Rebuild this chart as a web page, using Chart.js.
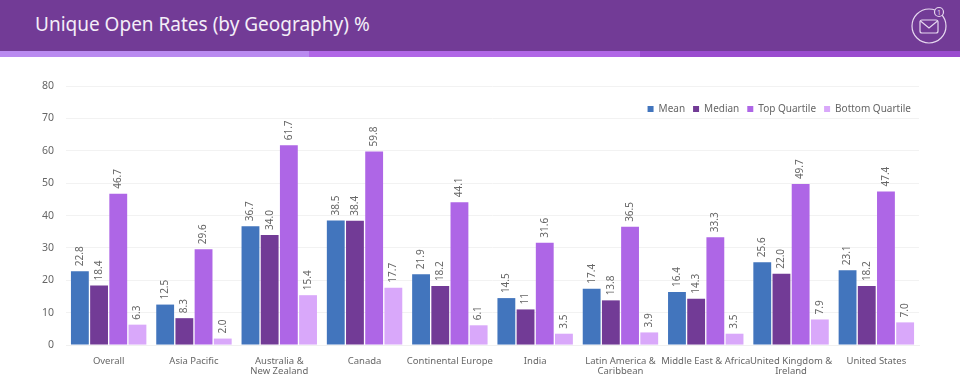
<!DOCTYPE html>
<html>
<head>
<meta charset="utf-8">
<title>Unique Open Rates</title>
<script src="https://cdn.jsdelivr.net/npm/chart.js@4/dist/chart.umd.min.js"></script>
<style>
  html, body { margin: 0; padding: 0; background: #fff; }
  body { width: 960px; height: 379px; overflow: hidden; position: relative; font-family: "Noto Sans", sans-serif; }
  .header { position: absolute; left: 0; top: 0; width: 960px; height: 51px; background: #723b96; }
  .header h1 { margin: 0; position: absolute; left: 35px; top: 11px; font-size: 19px; line-height: 27px; font-weight: 400; color: #f4eef8; }
  .strip { position: absolute; top: 51px; height: 6px; }
  .icon { position: absolute; left: 908px; top: 5px; }
  .plot { position: absolute; left: 0; top: 58px; width: 960px; height: 321px; }
</style>
</head>
<body>
<div class="header">
  <h1>Unique Open Rates (by Geography) %</h1>
  <svg class="icon" width="46" height="42" viewBox="0 0 46 42" fill="none" stroke="#e6d8ef" stroke-width="1.2">
    <circle cx="21" cy="21" r="17"/>
    <circle cx="31" cy="7" r="4.5" fill="#723b96"/>
    <rect x="12" y="15" width="18" height="13" rx="2"/>
    <path d="M12.5 16 L21 23 L29.5 16"/>
    <text x="31" y="9.5" font-size="7" text-anchor="middle" fill="#e6d8ef" stroke="none" font-family="Noto Sans">1</text>
  </svg>
</div>
<div class="strip" style="left:0;width:309px;background:#b98af0"></div>
<div class="strip" style="left:309px;width:331px;background:#b066e6"></div>
<div class="strip" style="left:640px;width:320px;background:#9a4ccf"></div>
<div class="plot"><canvas id="chart" width="960" height="321"></canvas></div>
<script>
const categories = [
  'Overall',
  'Asia Pacific',
  ['Australia &', 'New Zealand'],
  'Canada',
  'Continental Europe',
  'India',
  ['Latin America &', 'Caribbean'],
  'Middle East & Africa',
  ['United Kingdom &', 'Ireland'],
  'United States'
];

const mean = [22.8, 12.5, 36.7, 38.5, 21.9, 14.5, 17.4, 16.4, 25.6, 23.1];
const median = [18.4, 8.3, 34.0, 38.4, 18.2, 11, 13.8, 14.3, 22.0, 18.2];
const topQuartile = [46.7, 29.6, 61.7, 59.8, 44.1, 31.6, 36.5, 33.3, 49.7, 47.4];
const bottomQuartile = [6.3, 2.0, 15.4, 17.7, 6.1, 3.5, 3.9, 3.5, 7.9, 7.0];

// printed as in the source, India's median has no decimal
const medianLabels = ['18.4', '8.3', '34.0', '38.4', '18.2', '11', '13.8', '14.3', '22.0', '18.2'];

const fontFamily = '"Noto Sans", sans-serif';
const textColor = '#666666';

const makeDataset = (label, data, color, labels) => ({
  label,
  data,
  backgroundColor: color,
  barPercentage: 0.93,
  categoryPercentage: 0.9,
  valueLabels: labels || data.map(value => value.toFixed(1))
});

const valueLabelPlugin = {
  id: 'valueLabels',
  afterDatasetsDraw(chart) {
    const { ctx } = chart;

    chart.data.datasets.forEach((dataset, datasetIndex) => {
      chart.getDatasetMeta(datasetIndex).data.forEach((bar, index) => {
        ctx.save();
        ctx.translate(bar.x, bar.y - 5);
        ctx.rotate(-Math.PI / 2);
        ctx.font = `10px ${fontFamily}`;
        ctx.fillStyle = textColor;
        ctx.textAlign = 'left';
        ctx.textBaseline = 'middle';
        ctx.fillText(dataset.valueLabels[index], 0, 0);
        ctx.restore();
      });
    });
  }
};

// the legend sits inside the plot, under the top gridline
const legendOffsetPlugin = {
  id: 'legendOffset',
  afterLayout(chart) {
    const legend = chart.legend;
    const shift = 38 - legend.top;

    legend.top += shift;
    legend.bottom += shift;
    legend.adjustHitBoxes();
  }
};

new Chart(document.getElementById('chart').getContext('2d'), {
  type: 'bar',
  data: {
    labels: categories,
    datasets: [
      makeDataset('Mean', mean, '#4275bd'),
      makeDataset('Median', median, '#723b96', medianLabels),
      makeDataset('Top Quartile', topQuartile, '#ae66e6'),
      makeDataset('Bottom Quartile', bottomQuartile, '#d9a8fa')
    ]
  },
  options: {
    responsive: false,
    animation: false,
    layout: { padding: { left: 30, right: 41, top: 0, bottom: 0 } },
    plugins: {
      tooltip: { enabled: false },
      legend: {
        position: 'top',
        align: 'end',
        labels: {
          boxWidth: 6,
          boxHeight: 6,
          padding: 8,
          color: textColor,
          font: { family: fontFamily, size: 10 }
        }
      }
    },
    scales: {
      x: {
        grid: { display: false },
        border: { color: '#f0f0f0' },
        ticks: {
          color: textColor,
          maxRotation: 0,
          autoSkip: false,
          padding: 3,
          font: { family: fontFamily, size: 9.5, lineHeight: 1.05 }
        }
      },
      y: {
        min: 0,
        max: 80,
        grid: { color: '#f2f2f2', drawTicks: false },
        border: { display: false },
        ticks: {
          stepSize: 10,
          color: textColor,
          padding: 12,
          font: { family: fontFamily, size: 10.5 }
        }
      }
    }
  },
  plugins: [valueLabelPlugin, legendOffsetPlugin]
});
</script>
</body>
</html>
